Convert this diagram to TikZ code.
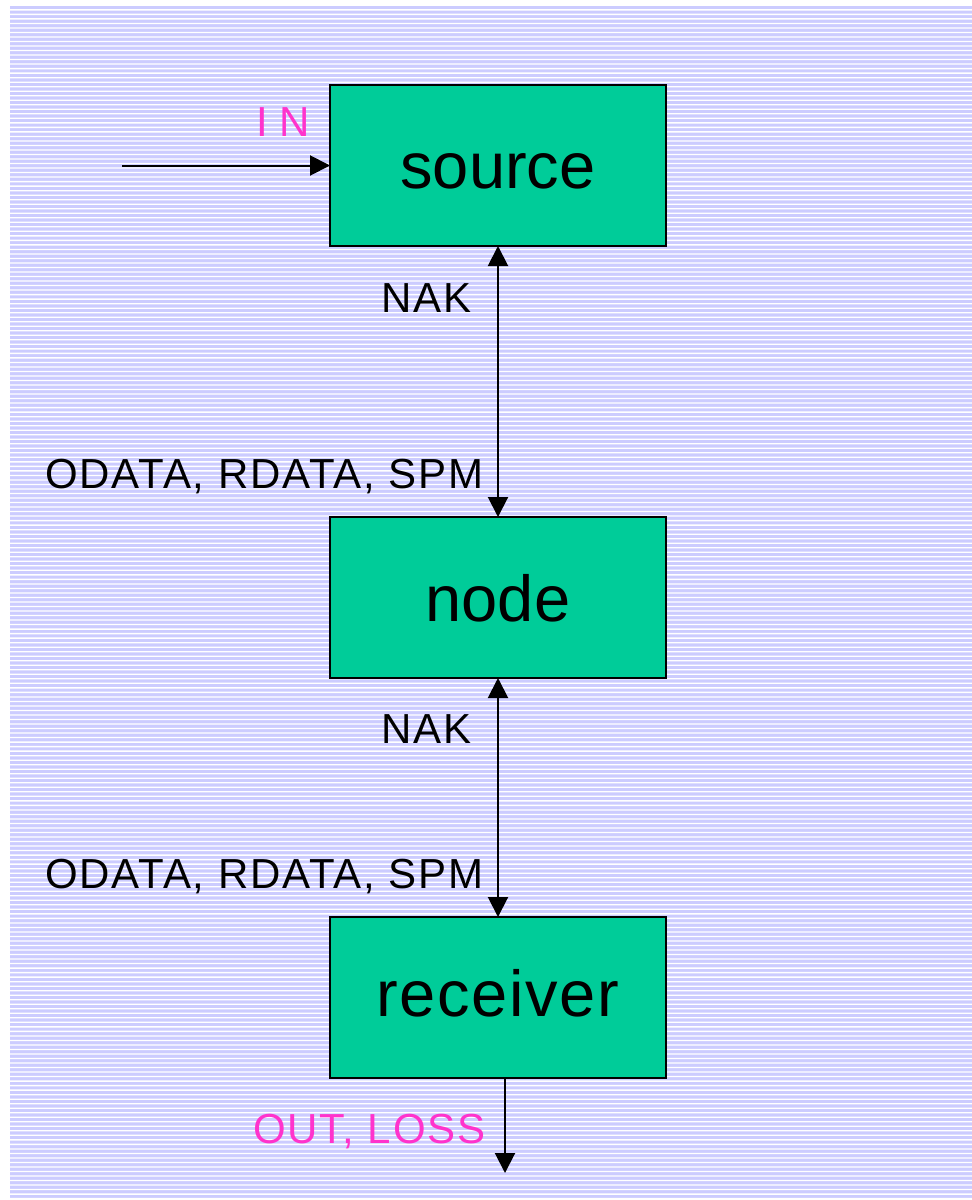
\documentclass[tikz,border=0pt]{standalone}
\usepackage{fontspec}
\setmainfont{Liberation Sans}
\newfontfamily\spacedsans[LetterSpace=4.5]{Liberation Sans}
\newfontfamily\widesans[LetterSpace=2.6]{Liberation Sans}
\usetikzlibrary{arrows.meta}

\definecolor{stripe}{RGB}{204,204,255}
\definecolor{boxfill}{RGB}{0,204,153}
\definecolor{magentalabel}{RGB}{255,51,204}

\begin{document}
\begin{tikzpicture}[x=0.5pt, y=-0.5pt,
  block/.style={draw=black, fill=boxfill, line width=1pt, rectangle,
    minimum width=168pt, minimum height=80.5pt, inner sep=0pt, outer sep=0pt,
    text depth=0pt, font=\fontsize{32.5}{39}\selectfont},
  lbl/.style={anchor=base west, inner sep=0pt, outer sep=0pt,
    font=\spacedsans\fontsize{21}{25}\selectfont},
  hot/.style={lbl, text=magentalabel},
  link/.style={line width=1pt, draw=black,
    arrows={-Triangle[length=10pt, width=10pt]}},
  dlink/.style={line width=1pt, draw=black,
    arrows={Triangle[length=10pt, width=10pt]-Triangle[length=10pt, width=10pt]}}
]
  \useasboundingbox (0,0) rectangle (972,1200);

  % striped backdrop
  \fill[stripe] (10,6) rectangle (972,1198);
  \fill[white]
    \foreach \k in {0,...,263} { (10,9.2+4.52*\k) rectangle (972,10.5+4.52*\k) };

  % blocks
  \node[block, text height=22.8pt] (source)   at (498,165.5) {source};
  \node[block, text height=23.5pt] (relay)    at (498,597.5) {node};
  \node[block, text height=19pt]   (receiver) at (498,997.5) {\widesans receiver};

  % free ends
  \coordinate (inbeg)  at (122,165.5);
  \coordinate (outend) at (505,1173);

  % connectors
  \draw[link]  (inbeg) -- (source.west);
  \draw[dlink] (source.south) -- (relay.north);
  \draw[dlink] (relay.south) -- (receiver.north);
  \draw[link]  (outend |- receiver.south) -- (outend);

  % labels
  \node[hot, font=\rmfamily\fontsize{21}{25}\selectfont] (inlbl) at (256,136) {I N};
  \node[lbl] (nak1)    at (381,312)  {NAK};
  \node[lbl] (data1)   at (45,488)   {ODATA, RDATA, SPM};
  \node[lbl] (nak2)    at (381,743)  {NAK};
  \node[lbl] (data2)   at (45,888)   {ODATA, RDATA, SPM};
  \node[hot] (outlbl)  at (253,1143) {OUT, LOSS};
\end{tikzpicture}
\end{document}
